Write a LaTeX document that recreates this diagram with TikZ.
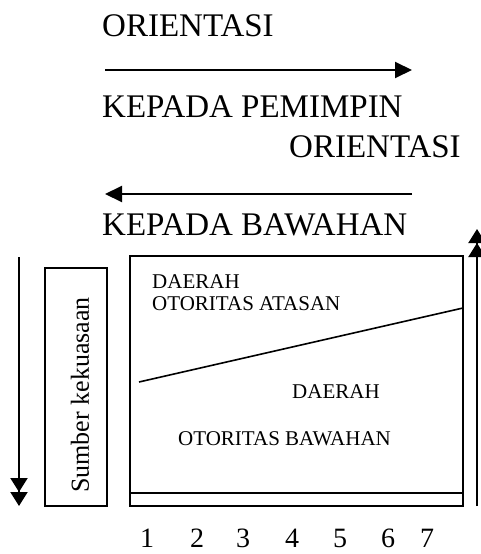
\documentclass[tikz,border=0pt]{standalone}
\usepackage{fontspec}
\setmainfont{Liberation Serif}
\usetikzlibrary{arrows.meta}
\begin{document}
\begin{tikzpicture}[x=1pt,y=-1pt,
  big/.style={anchor=base west,inner sep=0pt,font=\fontsize{33}{40}\selectfont},
  inbox/.style={anchor=base west,inner sep=0pt,font=\fontsize{21}{25}\selectfont},
  num/.style={anchor=base,inner sep=0pt,font=\fontsize{28}{33}\selectfont},
  frame/.style={draw,line width=1.4pt},
  harrow/.style={line width=2pt,-{Triangle[length=17pt,width=16pt]}},
  varrow/.style={line width=2pt,-{Triangle[length=14pt,width=17pt]Triangle[length=14pt,width=17pt]}}]
  \useasboundingbox (0,0) rectangle (481,554);

  % orientation labels and arrows
  \node[big] (o1) at (102,36) {ORIENTASI};
  \coordinate (a1s) at (105,70);
  \coordinate (a1e) at (412,70);
  \draw[harrow] (a1s) -- (a1e);
  \node[big] (k1) at (102,117) {KEPADA PEMIMPIN};
  \node[big] (o2) at (289,157) {ORIENTASI};
  \coordinate (a2s) at (412,194);
  \coordinate (a2e) at (105,194);
  \draw[harrow] (a2s) -- (a2e);
  \node[big] (k2) at (102,235) {KEPADA BAWAHAN};

  % vertical arrows on both sides
  \coordinate (l1) at (19,257);
  \coordinate (l2) at (19,506);
  \draw[varrow] (l1) -- (l2);
  \coordinate (r1) at (477,506);
  \coordinate (r2) at (477,229);
  \draw[varrow] (r1) -- (r2);

  % source of power box
  \node[frame,minimum width=62pt,minimum height=238pt,inner sep=0pt] (src) at (76,387) {};
  \node[rotate=90,inner sep=0pt,font=\fontsize{26}{30}\selectfont] (srct) at (80,395) {Sumber kekuasaan};

  % authority area box
  \coordinate (bTL) at (130,256);
  \coordinate (bBR) at (463,506);
  \draw[frame] (bTL) rectangle (bBR);
  \coordinate (sL) at (130,493);
  \coordinate (sR) at (463,493);
  \draw[frame] (sL) -- (sR);
  \coordinate (dL) at (139,382);
  \coordinate (dR) at (463,308);
  \draw[line width=1.6pt] (dL) -- (dR);

  \node[inbox] (t1) at (152,288) {DAERAH};
  \node[inbox] (t2) at (152,310) {OTORITAS ATASAN};
  \node[inbox] (t3) at (292,398) {DAERAH};
  \node[inbox] (t4) at (178,445) {OTORITAS BAWAHAN};

  % scale numbers
  \foreach \n/\x in {1/147,2/197,3/243,4/292,5/340,6/388,7/427}
    \node[num] (n\n) at (\x,547) {\n};
\end{tikzpicture}
\end{document}
